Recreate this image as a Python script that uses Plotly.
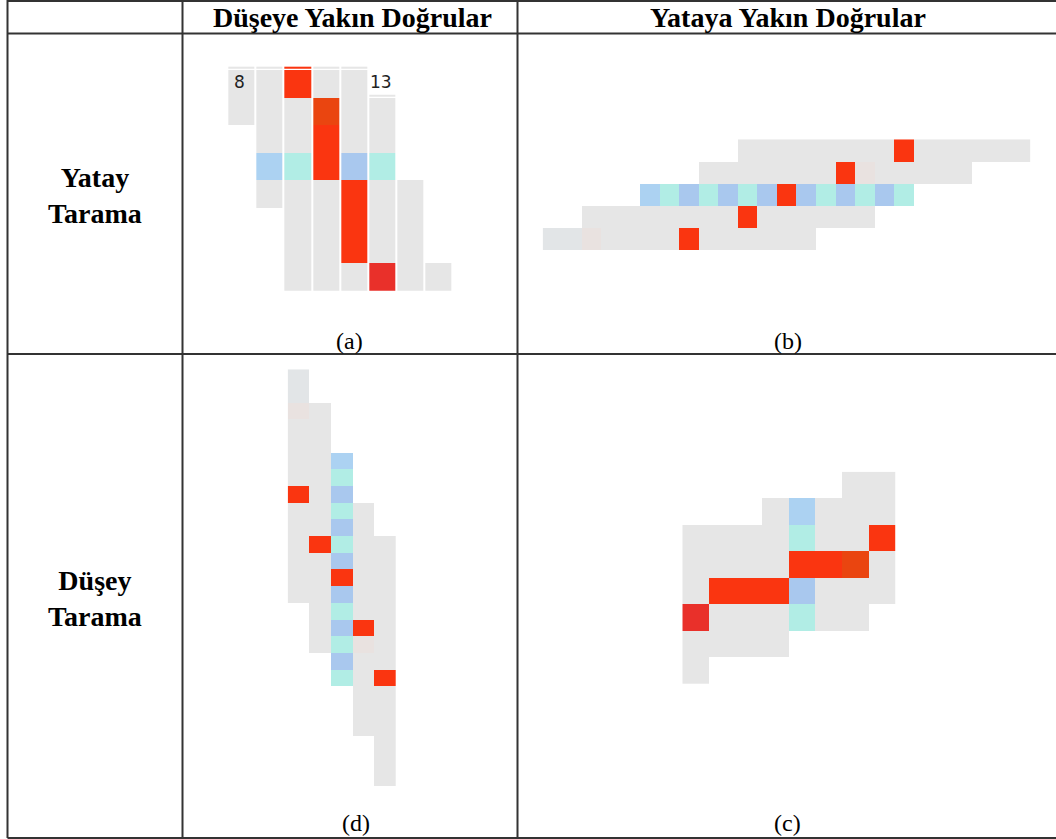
"""Pixel-grid scan illustration: near-vertical / near-horizontal lines."""

import plotly.graph_objects as go

W, H = 1056, 839

# cell codes: g gray, r red, o orange-red, d dark red, B light blue,
# b blue, c cyan, p faint pink, q faint blue-gray, . empty
CODES = ["g", "r", "o", "d", "B", "b", "c", "p", "q"]
CODE_COLORS = ["#e6e6e6", "#fa3510", "#ea4510", "#e9302a", "#acd2f2",
               "#a9c8ee", "#b1ede5", "#e9e2e0", "#e2e5e7"]

# (a) horizontal scan, near-vertical line
A_ROWS = ["ggrgg...", "gggogg..", ".ggrgg..", ".Bcrbc..",
          ".gggrgg.", "..ggrgg.", "..ggrgg.", "..gggdgg"]
A_SLIVER_ROWS = ["ggrgg...", "........", ".....g.."]
A_SLIVER_EDGES = [-0.62, -0.56, 0.4, 0.47]
A_LABELS = ["8", "13"]
A_LABEL_COLS = [-0.05, 4.95]

# (b) horizontal scan, near-horizontal line
B_ROWS = [
    ".........." + "ggggggggrgggggg",
    "........" + "gggggggrpggggg" + "...",
    "....." + "Bcbcbcbrbcbcbc" + "......",
    ".." + "ggggggggrgggggg" + "........",
    "qqpggggrgggggg" + "...........",
]

# (d) vertical scan, near-vertical line
D_ROWS = ["q....", "q....", "pg...", "gg...", "gg...", "ggB..", "ggc..",
          "rgb..", "ggcg.", "ggbg.", "grcgg", "ggbgg", "ggrgg", "ggbgg",
          ".gcgg", ".gbrg", ".gcpg", "..bgg", "..cgr", "...gg", "...gg",
          "...gg", "....g", "....g", "....g"]

# (c) vertical scan, near-horizontal line
C_ROWS = ["......gg", "...gBggg", "ggggcggr", "ggggrrog",
          "grrrbggg", "dgggcgg.", "gggg....", "g......."]

HEADERS = ["Düşeye Yakın Doğrular", "Yataya Yakın Doğrular"]
ROW_TITLES = ["Yatay<br>Tarama", "Düşey<br>Tarama"]
CAPTIONS = ["(a)", "(b)", "(d)", "(c)"]


def to_z(rows):
    return [[None if ch == "." else CODES.index(ch) for ch in row] for row in rows]


n = len(CODES)
colorscale = []
for i, col in enumerate(CODE_COLORS):
    colorscale += [[i / n, col], [(i + 1) / n, col]]


def grid_trace(rows, ax, y=None, xgap=0):
    kw = dict(z=to_z(rows), x=list(range(len(rows[0]))),
              colorscale=colorscale, zmin=-0.5, zmax=n - 0.5,
              showscale=False, hoverinfo="skip", xgap=xgap, ygap=0,
              xaxis="x" + ax, yaxis="y" + ax)
    kw["y"] = y if y is not None else list(range(len(rows)))
    return go.Heatmap(**kw)


fig = go.Figure()
fig.add_trace(grid_trace(A_ROWS, "", xgap=2))
fig.add_trace(grid_trace(A_SLIVER_ROWS, "", y=A_SLIVER_EDGES, xgap=2))
fig.add_trace(grid_trace(B_ROWS, "2"))
fig.add_trace(grid_trace(D_ROWS, "3"))
fig.add_trace(grid_trace(C_ROWS, "4"))


def dom_x(p0, p1):
    return [p0 / W, p1 / W]


def dom_y(p0, p1):
    return [1 - p1 / H, 1 - p0 / H]


def ax(dom, rng):
    return dict(domain=dom, range=rng, visible=False, fixedrange=True)


# panel pixel boxes, ranges in cell units
fig.update_layout(
    xaxis=ax(dom_x(227.3, 452.7), [-0.5, 7.5]),
    yaxis=ax(dom_y(63.1, 290.7), [7.5, -0.75]),
    xaxis2=ax(dom_x(542.7, 1030.2), [-0.5, 24.5]),
    yaxis2=ax(dom_y(139.3, 250.0), [4.5, -0.5]),
    xaxis3=ax(dom_x(287.7, 396.0), [-0.5, 4.5]),
    yaxis3=ax(dom_y(369.3, 786.0), [24.5, -0.5]),
    xaxis4=ax(dom_x(682.3, 895.7), [-0.5, 7.5]),
    yaxis4=ax(dom_y(471.7, 684.0), [7.5, -0.5]),
)

# table rules
line = dict(color="#333333", width=2)
shapes = []
for py in [1, 33.5, 354, 838]:
    shapes.append(dict(type="line", xref="paper", yref="paper",
                       x0=7.5 / W, x1=1.0, y0=1 - py / H, y1=1 - py / H, line=line))
for px in [7.5, 182.5, 517.5]:
    shapes.append(dict(type="line", xref="paper", yref="paper",
                       x0=px / W, x1=px / W, y0=1 - 838 / H, y1=1.0, line=line))

serif = "Liberation Serif, Times New Roman, serif"
annotations = []


def label(text, px, py, size, family=serif, color="#000000"):
    annotations.append(dict(text=text, x=px / W, y=1 - py / H,
                            xref="paper", yref="paper", showarrow=False,
                            xanchor="center", yanchor="middle",
                            font=dict(family=family, size=size, color=color)))


for text, px in zip(HEADERS, [352, 788]):
    label(f"<b>{text}</b>", px, 18, 28)
for text, py in zip(ROW_TITLES, [195, 598]):
    label(f"<b>{text}</b>", 95, py, 28)
for text, (px, py) in zip(CAPTIONS, [(349, 341), (788, 341), (356, 823), (787, 823)]):
    label(text, px, py, 24)
for text, cx in zip(A_LABELS, A_LABEL_COLS):
    annotations.append(dict(text=text, x=cx, y=-0.05, xref="x", yref="y",
                            showarrow=False, xanchor="center", yanchor="middle",
                            font=dict(family="DejaVu Sans", size=17, color="#222222")))

fig.update_layout(
    width=W, height=H,
    margin=dict(l=0, r=0, t=0, b=0),
    paper_bgcolor="white", plot_bgcolor="rgba(0,0,0,0)",
    showlegend=False,
    shapes=shapes,
    annotations=annotations,
)

fig.write_html("out.html", config={"displayModeBar": False},
               post_script="document.body.style.margin='0';")
